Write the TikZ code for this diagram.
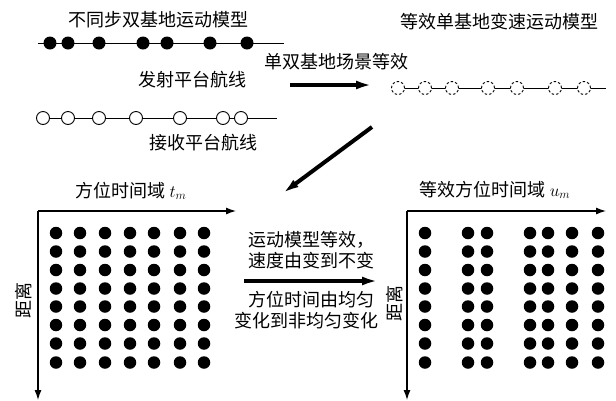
\documentclass[tikz,border=0pt]{standalone}
\usepackage{fontspec}
\newfontfamily\cjk{Noto Sans CJK SC}
\usetikzlibrary{arrows.meta}
\begin{document}
\begin{tikzpicture}[x=1pt,y=-1pt,
  lbl/.style={font=\cjk\fontsize{18}{20}\selectfont, inner sep=0pt},
  fdot/.style={circle, fill=black, inner sep=0pt, minimum size=13pt},
  hdot/.style={circle, draw=black, fill=white, line width=0.9pt, inner sep=0pt, minimum size=13pt},
  ddot/.style={circle, draw=black, fill=white, dashed, dash pattern=on 2.5pt off 2pt, line width=0.9pt, inner sep=0pt, minimum size=13pt},
  gdot/.style={circle, fill=black, inner sep=0pt, minimum size=12.5pt},
  track/.style={line width=0.9pt},
  bigarrow/.style={line width=4pt, -{Latex[length=16pt,width=9pt]}},
  axis/.style={line width=1.2pt, -{Latex[length=10pt,width=7pt]}}
]
\useasboundingbox (0,0) rectangle (616,400);

% ---- top left: transmitter / receiver tracks
\node[lbl] (t1) at (158,20) {不同步双基地运动模型};
\coordinate (tx0) at (38,43);
\coordinate (tx1) at (284,43);
\draw[track] (tx0) -- (tx1);
\foreach \x [count=\i] in {50,68,99,143,167,210,247}
  \node[fdot] (f\i) at (\x,43) {};
\node[lbl] (t2) at (192,80) {发射平台航线};

\coordinate (rx0) at (37,118);
\coordinate (rx1) at (277,118);
\draw[track] (rx0) -- (rx1);
\foreach \x [count=\i] in {43,68,99,136,180,223,241}
  \node[hdot] (h\i) at (\x,118) {};
\node[lbl] (t3) at (203,143) {接收平台航线};

% ---- top right: equivalent monostatic
\node[lbl] (t4) at (499,22) {等效单基地变速运动模型};
\node[lbl] (t5) at (336,62) {单双基地场景等效};
\coordinate (a1s) at (290,85);
\coordinate (a1e) at (372,85);
\draw[bigarrow] (a1s) -- (a1e);

\coordinate (ex0) at (395,88);
\coordinate (ex1) at (606,88);
\draw[track] (ex0) -- (ex1);
\foreach \x [count=\i] in {398,425,452,488,517,555,584}
  \node[ddot] (d\i) at (\x,88) {};

\coordinate (a2s) at (372,127);
\coordinate (a2e) at (283,193);
\draw[bigarrow] (a2s) -- (a2e);

% ---- bottom left grid
\node[lbl] (t6) at (131,191) {方位时间域 $t_m$};
\coordinate (o1) at (38,211);
\coordinate (o1x) at (236,211);
\coordinate (o1y) at (38,400);
\draw[axis] (o1) -- (o1x);
\draw[axis] (o1) -- (o1y);
\node[lbl, rotate=90] (t7) at (24,300) {距离};
\foreach \x [count=\i] in {56,80,105,130,154,180,204}
  \foreach \y [count=\j] in {233,251.5,270,288.5,306.5,325,343.5,362.5}
    \node[gdot] (L-\i-\j) at (\x,\y) {};

% ---- middle text and arrow
\node[lbl] (m1) at (311,240) {运动模型等效，};
\node[lbl] (m2) at (311,261) {速度由变到不变};
\coordinate (a3s) at (244,281);
\coordinate (a3e) at (378,281);
\draw[bigarrow] (a3s) -- (a3e);
\node[lbl] (m3) at (311,300) {方位时间由均匀};
\node[lbl] (m4) at (306,321) {变化到非均匀变化};

% ---- bottom right grid
\node[lbl] (t8) at (495,190) {等效方位时间域 $u_m$};
\coordinate (o2) at (407,211);
\coordinate (o2x) at (606,211);
\coordinate (o2y) at (407,400);
\draw[axis] (o2) -- (o2x);
\draw[axis] (o2) -- (o2y);
\node[lbl, rotate=90] (t9) at (395,303) {距离};
\foreach \x [count=\i] in {425,468,487,530,548,572,598}
  \foreach \y [count=\j] in {233,251.5,270,288.5,306.5,325,343.5,362.5}
    \node[gdot] (R-\i-\j) at (\x,\y) {};
\end{tikzpicture}
\end{document}
